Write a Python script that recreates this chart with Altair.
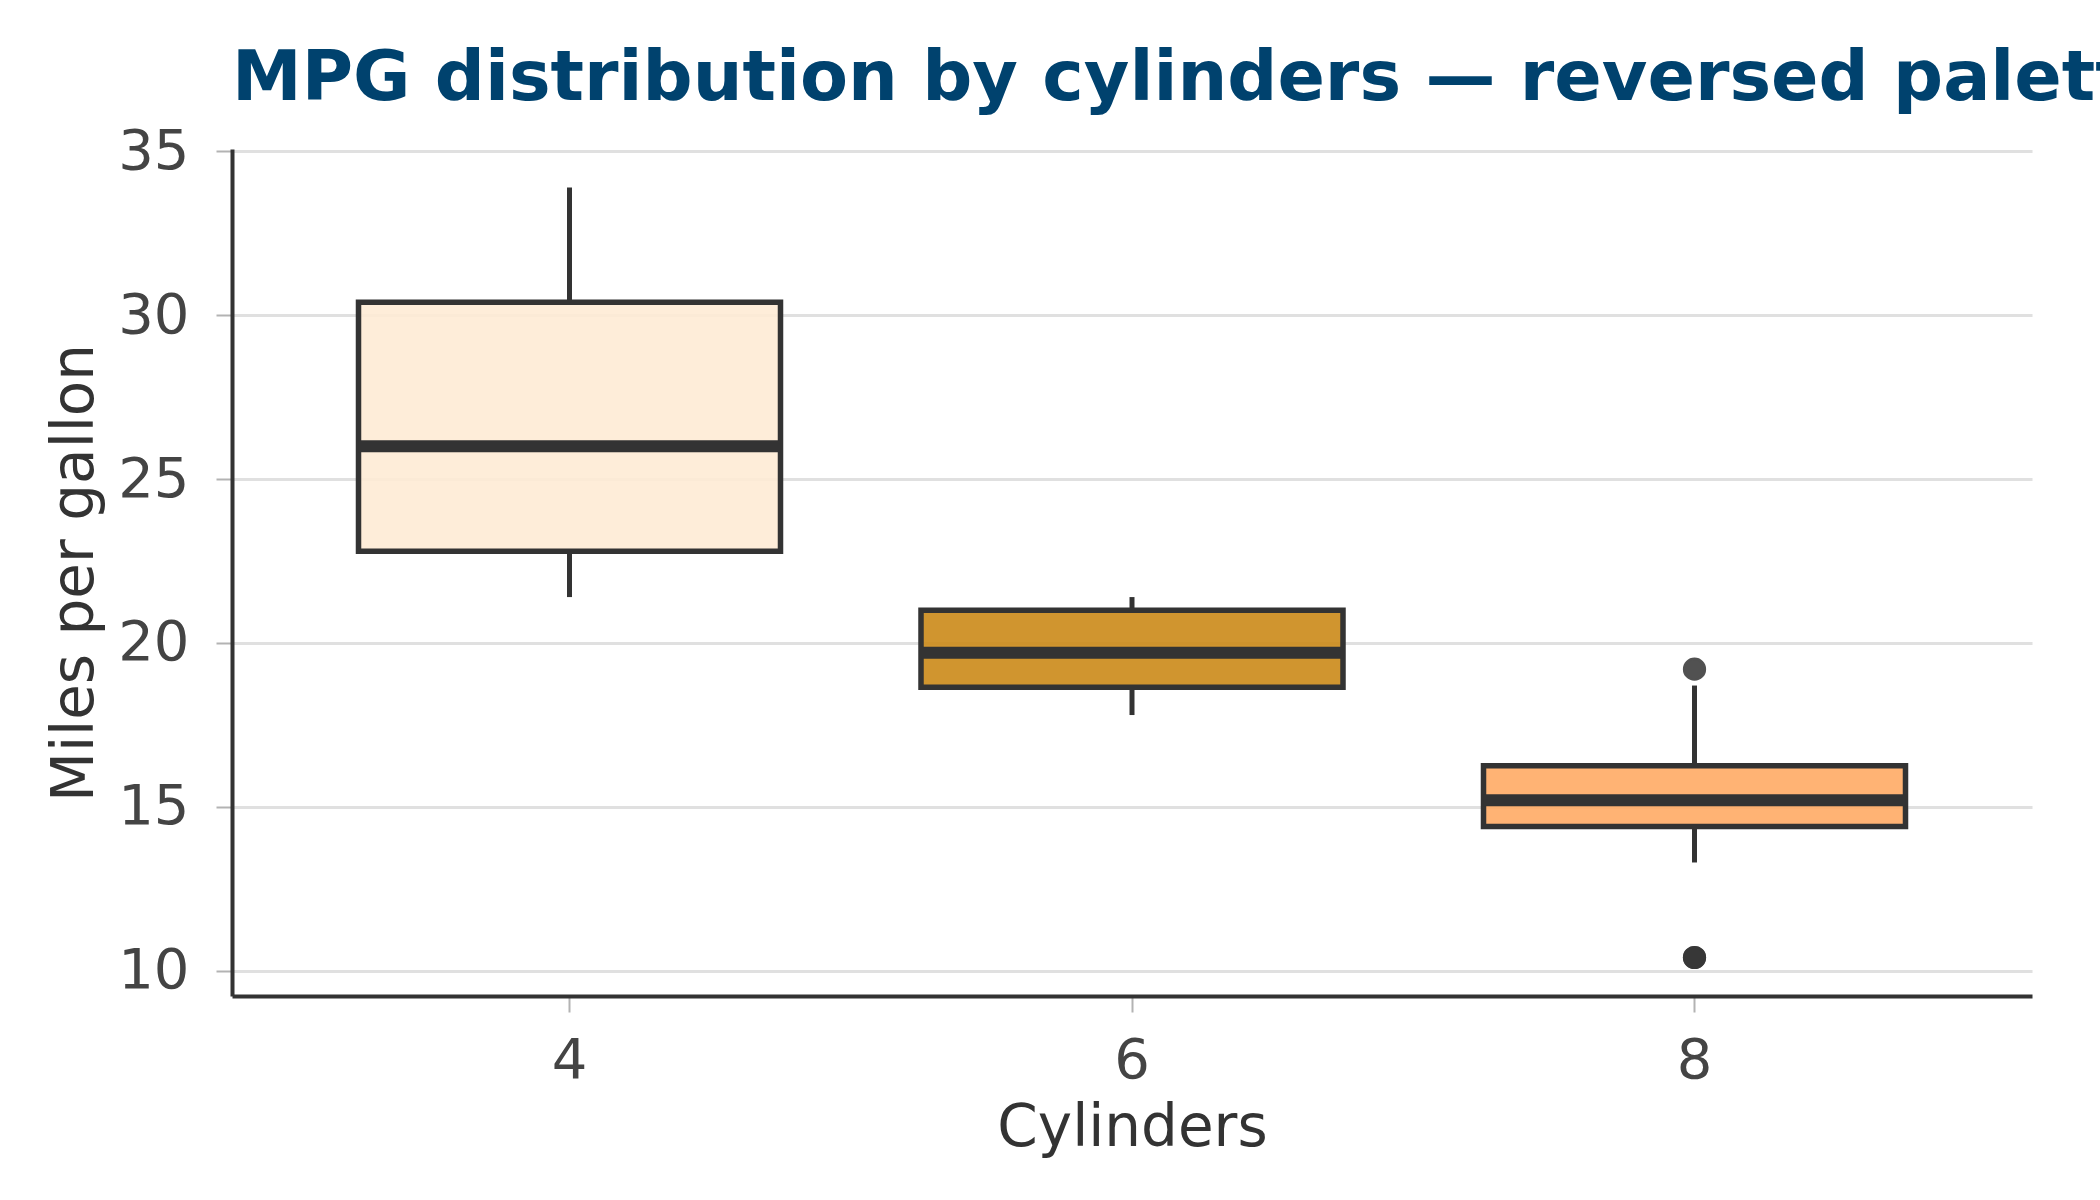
import altair as alt
import pandas as pd

# mtcars mpg by number of cylinders
cyl_levels = ["4", "6", "8"]
mpg_4 = [22.8, 24.4, 22.8, 32.4, 30.4, 33.9, 21.5, 27.3, 26.0, 30.4, 21.4]
mpg_6 = [21.0, 21.0, 21.4, 18.1, 19.2, 17.8, 19.7]
mpg_8 = [18.7, 14.3, 16.4, 17.3, 15.2, 10.4, 10.4, 14.7, 15.5, 15.2, 13.3, 19.2, 15.8, 15.0]
box_colors = ["#FEEBD5", "#CB8918", "#FFAB65"]
y_ticks = [10, 15, 20, 25, 30, 35]

rows = []
for c, vals in zip(cyl_levels, [mpg_4, mpg_6, mpg_8]):
    for v in vals:
        rows.append({"cyl": c, "mpg": v})
df = pd.DataFrame(rows)

FONT = "DejaVu Sans"

chart = alt.Chart(df).mark_boxplot(
    extent=1.5,
    size=422,
    box={"stroke": "#333333", "strokeWidth": 5.5, "fillOpacity": 0.9},
    median={"color": "#333333", "thickness": 12, "opacity": 1},
    rule={"color": "#333333", "strokeWidth": 5},
    outliers={"color": "#333333", "fill": "#333333", "stroke": "#333333", "filled": True,
              "size": 430, "strokeWidth": 2.5, "opacity": 0.85},
    ticks=False,
).encode(
    x=alt.X("cyl:O", sort=cyl_levels, title="Cylinders",
            scale=alt.Scale(paddingInner=0, paddingOuter=0.1),
            axis=alt.Axis(labelAngle=0, grid=False, tickSize=16, tickWidth=2,
                          tickColor="#b3b3b3", domainColor="#333333", domainWidth=4,
                          labelPadding=21, titlePadding=11)),
    y=alt.Y("mpg:Q", title="Miles per gallon",
            scale=alt.Scale(domain=[9.225, 35.075], nice=False, zero=False),
            axis=alt.Axis(values=y_ticks, tickSize=16, tickWidth=2, tickColor="#b3b3b3",
                          domainColor="#333333", domainWidth=4, grid=True,
                          gridColor="#e0e0e0", gridWidth=3, labelPadding=27,
                          titlePadding=13)),
    color=alt.Color("cyl:O", sort=cyl_levels, legend=None,
                    scale=alt.Scale(domain=cyl_levels, range=box_colors)),
).properties(
    width=1800,
    height=847,
    background="white",
    autosize=alt.AutoSizeParams(type="none"),
    padding={"left": 232, "top": 149, "right": 68, "bottom": 204},
    title=alt.TitleParams(
        text="MPG distribution by cylinders — reversed palette",
        anchor="start", frame="group", fontSize=70, font=FONT, fontWeight="bold",
        color="#00426e", offset=8,
    ),
).configure_axis(
    labelFont=FONT, titleFont=FONT, labelFontSize=56, titleFontSize=58,
    labelColor="#444444", titleColor="#333333", titleFontWeight="normal",
).configure_view(stroke=None)

chart.save("out.html", embed_options={"renderer": "svg", "actions": False})
